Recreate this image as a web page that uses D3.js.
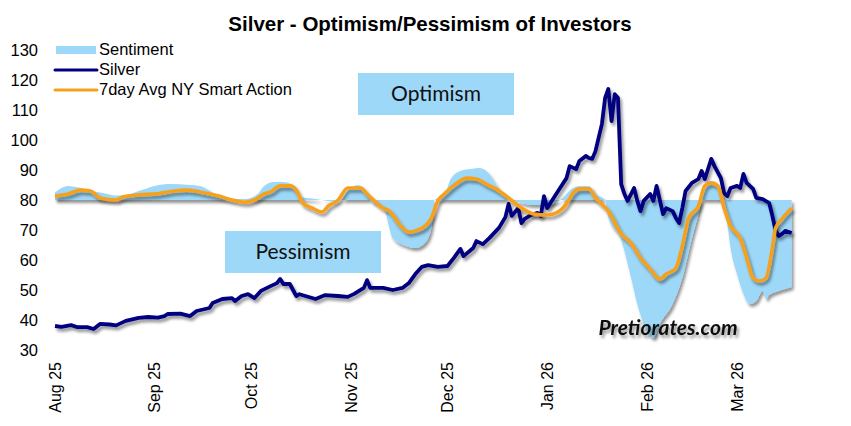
<!DOCTYPE html>
<html>
<head lang="en">
    <meta charset="UTF-8">
    <title>Silver sentiment</title>
    <style>
        body{
            margin: 0;
            background: #fff;
        }
        svg text{
            font-family: Arial, "Liberation Sans", sans-serif;
        }
    </style>
    <script type="text/javascript" src="https://cdn.jsdelivr.net/npm/d3@7/dist/d3.min.js"></script>
</head>
<body>
<div id="chart"></div>

<script type="text/javascript">

    var monthTicks = ['2025-08-01','2025-09-01','2025-10-01','2025-11-01','2025-12-01','2026-01-01','2026-02-01','2026-03-01'];
    var yTicks = [30,40,50,60,70,80,90,100,110,120,130];
    var baseline = 80;

    var silverDates = ['2025-08-01','2025-08-03','2025-08-06','2025-08-08','2025-08-11','2025-08-13','2025-08-15','2025-08-18','2025-08-20','2025-08-23',
        '2025-08-27','2025-08-30','2025-09-02','2025-09-04','2025-09-05','2025-09-09','2025-09-12','2025-09-14','2025-09-18','2025-09-19',
        '2025-09-22','2025-09-25','2025-09-26','2025-09-28','2025-09-30','2025-10-02','2025-10-04','2025-10-07','2025-10-09','2025-10-10',
        '2025-10-11','2025-10-13','2025-10-15','2025-10-16','2025-10-21','2025-10-24','2025-10-28','2025-10-31','2025-11-02','2025-11-05',
        '2025-11-06','2025-11-07','2025-11-11','2025-11-14','2025-11-17','2025-11-19','2025-11-21','2025-11-23','2025-11-25','2025-11-28',
        '2025-12-01','2025-12-03','2025-12-05','2025-12-06','2025-12-09','2025-12-10','2025-12-12','2025-12-14','2025-12-17','2025-12-19',
        '2025-12-20','2025-12-21','2025-12-23','2025-12-24','2025-12-25','2025-12-27','2025-12-29','2025-12-30','2025-12-31','2026-01-01',
        '2026-01-05','2026-01-07','2026-01-08','2026-01-10','2026-01-11','2026-01-13','2026-01-14','2026-01-15','2026-01-16','2026-01-18',
        '2026-01-19','2026-01-20','2026-01-21','2026-01-22','2026-01-23','2026-01-24','2026-01-25','2026-01-26','2026-01-28','2026-01-29',
        '2026-01-30','2026-01-31','2026-02-02','2026-02-03','2026-02-04','2026-02-06','2026-02-07','2026-02-09','2026-02-10','2026-02-11',
        '2026-02-12','2026-02-13','2026-02-15','2026-02-17','2026-02-18','2026-02-19','2026-02-21','2026-02-22','2026-02-24','2026-02-25',
        '2026-02-26','2026-02-27','2026-03-01','2026-03-02','2026-03-03','2026-03-04','2026-03-06','2026-03-07','2026-03-09','2026-03-11',
        '2026-03-12','2026-03-13','2026-03-14','2026-03-15','2026-03-16','2026-03-18'];
    var silverValues = [38,37.7,38.3,37.6,37.6,37,38.7,38.5,38.2,39.7,
        40.7,41,40.8,41.3,42,42.1,41.3,43,44,45.7,
        47,47.3,46.3,48,48.6,47.3,49.7,51.3,52.3,53.7,
        52,52,48,48.6,47,48.3,48,47.7,48.7,50.7,
        53.3,50.7,50.7,50,50.7,52.3,55.3,57.7,58.3,57.7,
        58,60.7,63.7,61.3,64,66.3,65.3,67.3,70.7,74.3,
        78.7,74.7,77.3,72.3,73.7,75,75.7,74.7,81.3,77.3,
        84,87.3,91.3,90.3,93,94.7,94,93.7,96.3,105.3,
        114,117,106.3,115.3,114,85.3,82,79.7,84,79.7,
        76.3,79.7,82,79.7,84.7,75.3,77.3,76.3,74,72.3,
        77.3,83,85.7,87,89.7,87,93.7,91.3,87.3,82.3,
        81.3,84,84.7,84,88.7,85.7,83.7,80.7,80.3,79,
        74.7,69.7,68,68.7,69.7,69];

    var avgDates = ['2025-08-01','2025-08-05','2025-08-09','2025-08-12','2025-08-15','2025-08-20','2025-08-22','2025-08-27','2025-09-02','2025-09-07',
        '2025-09-11','2025-09-15','2025-09-21','2025-09-25','2025-09-29','2025-10-02','2025-10-05','2025-10-07','2025-10-10','2025-10-13',
        '2025-10-15','2025-10-17','2025-10-20','2025-10-23','2025-10-25','2025-10-28','2025-10-31','2025-11-04','2025-11-06','2025-11-09',
        '2025-11-11','2025-11-13','2025-11-16','2025-11-19','2025-11-21','2025-11-24','2025-11-26','2025-11-28','2025-11-30','2025-12-04',
        '2025-12-07','2025-12-10','2025-12-13','2025-12-16','2025-12-20','2025-12-24','2025-12-28','2026-01-01','2026-01-04','2026-01-07',
        '2026-01-09','2026-01-11','2026-01-14','2026-01-16','2026-01-20','2026-01-24','2026-01-27','2026-01-30','2026-02-02','2026-02-05',
        '2026-02-07','2026-02-10','2026-02-12','2026-02-14','2026-02-17','2026-02-19','2026-02-21','2026-02-23','2026-02-25','2026-02-27',
        '2026-03-02','2026-03-04','2026-03-06','2026-03-08','2026-03-10','2026-03-12','2026-03-13','2026-03-15','2026-03-18'];
    var avgValues = [81.3,82,83.3,83,80.7,80,81,81.7,82.1,83,
        83.3,82.7,81.3,80,79.3,80,82,82.7,84.7,84.7,
        83.3,79,77.3,76,78,80,84,84,82,79,
        77.3,76.3,72,69.3,69.7,71.3,74,79.7,82,85.7,
        87.3,87,85.3,83.7,80.7,77.3,75.3,75,75.8,78.7,
        82.3,83.7,83.7,80.7,76.3,68.7,65.7,60.7,57,53.7,
        55.3,57.3,64.7,74,78,84.7,85.7,84.7,77.3,71.3,
        67.3,60.7,54,53,54,64,70.7,73.7,77.3];

    var sentDates = ['2025-08-01','2025-08-03','2025-08-05','2025-08-09','2025-08-12','2025-08-15','2025-08-20','2025-08-22','2025-08-27','2025-09-01',
        '2025-09-06','2025-09-12','2025-09-15','2025-09-20','2025-09-24','2025-09-29','2025-10-03','2025-10-05','2025-10-08','2025-10-11',
        '2025-10-14','2025-10-16','2025-10-20','2025-10-23','2025-10-26','2025-10-29','2025-10-31','2025-11-03','2025-11-05','2025-11-07',
        '2025-11-11','2025-11-14','2025-11-18','2025-11-21','2025-11-24','2025-11-26','2025-11-27','2025-11-30','2025-12-02','2025-12-05',
        '2025-12-08','2025-12-11','2025-12-14','2025-12-16','2025-12-18','2025-12-20','2025-12-23','2025-12-26','2025-12-29','2026-01-01',
        '2026-01-03','2026-01-05','2026-01-09','2026-01-11','2026-01-14','2026-01-16','2026-01-19','2026-01-20','2026-01-24','2026-01-27',
        '2026-01-29','2026-01-31','2026-02-03','2026-02-05','2026-02-09','2026-02-12','2026-02-15','2026-02-17','2026-02-18','2026-02-19',
        '2026-02-21','2026-02-22','2026-02-24','2026-02-25','2026-02-26','2026-02-27','2026-03-01','2026-03-03','2026-03-05','2026-03-07',
        '2026-03-09','2026-03-10','2026-03-11','2026-03-14','2026-03-16','2026-03-18'];
    var sentValues = [82.5,84,84.7,84,83,82.5,81.5,81.5,83,84.7,
        85.3,85,84.7,82,80.5,80.3,82,84.7,86,86,
        85,81,80.5,80,79.5,80,83,85,84,80,
        78,67.3,64.7,64,65.7,70.7,80,81.7,87,89.7,
        90.3,90.7,88.7,85.3,82,80,79.3,78.5,78.3,78.3,
        79,80,84,84.7,84.7,82,80,74.3,66.7,54.3,
        45.3,38.7,34,38.7,45.3,54,67.3,75.3,80,83,
        86.3,86,82.3,80,72,64,55.3,48.7,45.3,46.3,
        49.7,47,48.3,49.7,50.3,51];

    var width = 851, height = 426;
    var parse = d3.timeParse('%Y-%m-%d');
    var fmt = d3.timeFormat('%b %y');

    var x = d3.scaleTime()
        .domain([parse(monthTicks[0]), parse(monthTicks[monthTicks.length - 1])])
        .range([55, 737]);
    var y = d3.scaleLinear().domain([30, 130]).range([350, 50]);

    function zip(dates, vals){
        return dates.map(function(d, i){ return {date: parse(d), value: vals[i]}; });
    }
    var silver = zip(silverDates, silverValues);
    var avg = zip(avgDates, avgValues);
    var sent = zip(sentDates, sentValues);

    var svg = d3.select('#chart').append('svg')
        .attr('width', width)
        .attr('height', height);

    var defs = svg.append('defs');
    var f = defs.append('filter').attr('id', 'shadow')
        .attr('x', '-10%').attr('y', '-10%').attr('width', '130%').attr('height', '130%');
    f.append('feDropShadow').attr('dx', 2).attr('dy', 3).attr('stdDeviation', 1.6)
        .attr('flood-color', '#000').attr('flood-opacity', 0.42);

    // title
    svg.append('text')
        .attr('x', 430).attr('y', 31)
        .attr('text-anchor', 'middle')
        .style('font-size', '20.5px').style('font-weight', 'bold')
        .text('Silver - Optimism/Pessimism of Investors');

    // y labels
    svg.append('g').selectAll('text').data(yTicks).enter().append('text')
        .attr('x', 38).attr('y', function(d){ return y(d); })
        .attr('dy', '0.35em')
        .attr('text-anchor', 'end')
        .style('font-size', '16.5px')
        .text(function(d){ return d; });

    // x labels
    svg.append('g').selectAll('text').data(monthTicks).enter().append('text')
        .attr('transform', function(d){ return 'translate(' + x(parse(d)) + ',362) rotate(-90)'; })
        .attr('dy', '0.35em')
        .attr('text-anchor', 'end')
        .style('font-size', '16px')
        .text(function(d){ return fmt(parse(d)); });

    // annotation boxes
    var boxColor = '#9dd8f8';
    var boxes = [
        {label: 'Optimism', x0: 358, y0: 73, w: 156, h: 42},
        {label: 'Pessimism', x0: 225, y0: 231, w: 156, h: 42}
    ];
    boxes.forEach(function(b){
        svg.append('rect').attr('x', b.x0).attr('y', b.y0).attr('width', b.w).attr('height', b.h).attr('fill', boxColor);
        svg.append('text').attr('x', b.x0 + b.w / 2).attr('y', b.y0 + b.h / 2)
            .attr('dy', '0.35em').attr('text-anchor', 'middle')
            .style('font-family', 'Lato, "Open Sans", sans-serif').style('font-size', '21px').style('fill', '#111')
            .text(b.label);
    });

    // sentiment area around the baseline
    var area = d3.area()
        .x(function(d){ return x(d.date); })
        .y0(y(baseline))
        .y1(function(d){ return y(d.value); })
        .curve(d3.curveMonotoneX);
    svg.append('path').datum(sent)
        .attr('d', area)
        .attr('fill', boxColor)
        .attr('filter', 'url(#shadow)');

    var line = d3.line()
        .x(function(d){ return x(d.date); })
        .y(function(d){ return y(d.value); });

    svg.append('path').datum(silver)
        .attr('d', line.curve(d3.curveLinear))
        .attr('fill', 'none').attr('stroke', '#000080').attr('stroke-width', 3.8)
        .attr('stroke-linejoin', 'round')
        .attr('filter', 'url(#shadow)');

    svg.append('path').datum(avg)
        .attr('d', line.curve(d3.curveMonotoneX))
        .attr('fill', 'none').attr('stroke', '#f7a01c').attr('stroke-width', 3.6)
        .attr('stroke-linejoin', 'round')
        .attr('filter', 'url(#shadow)');

    // watermark
    svg.append('text')
        .attr('x', 668).attr('y', 335)
        .attr('text-anchor', 'middle')
        .style('font-family', 'Lato, "Open Sans", sans-serif')
        .style('font-size', '21px').style('font-weight', 'bold').style('font-style', 'italic')
        .style('fill', '#111')
        .attr('filter', 'url(#shadow)')
        .text('Pretiorates.com');

    // legend
    var lg = svg.append('g');
    lg.append('rect').attr('x', 56).attr('y', 46).attr('width', 40).attr('height', 8).attr('fill', boxColor);
    lg.append('line').attr('x1', 55).attr('x2', 97).attr('y1', 70).attr('y2', 70)
        .attr('stroke', '#000080').attr('stroke-width', 3).attr('stroke-linecap', 'round');
    lg.append('line').attr('x1', 55).attr('x2', 97).attr('y1', 90).attr('y2', 90)
        .attr('stroke', '#f7a01c').attr('stroke-width', 3).attr('stroke-linecap', 'round');
    var legendText = ['Sentiment', 'Silver', '7day Avg NY Smart Action'];
    lg.selectAll('text').data(legendText).enter().append('text')
        .attr('x', 99).attr('y', function(d, i){ return 49 + i * 20; })
        .attr('dy', '0.35em')
        .style('font-size', '16.5px')
        .text(function(d){ return d; });

</script>

</body>
</html>
